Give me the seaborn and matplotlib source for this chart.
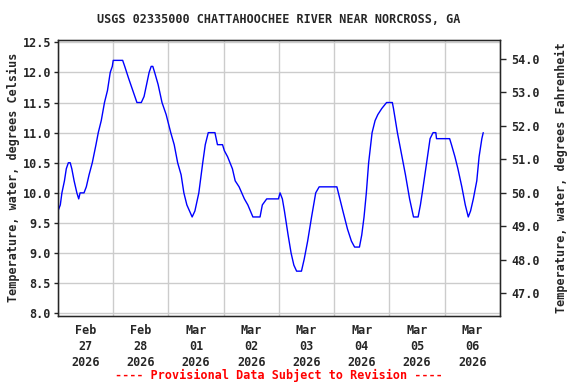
import pandas as pd
import numpy as np
import matplotlib
matplotlib.use("Agg")
import matplotlib.pyplot as plt
import matplotlib.dates as mdates
from matplotlib.ticker import FixedLocator, FormatStrFormatter
import seaborn as sns

# Hours after 2026-02-27 00:00 and water temperature (deg C)
hours = [0, 1, 1.7, 2.8, 3.6, 4.5, 5.3, 6.0, 7.0, 8.2, 9.0, 9.6, 11.3, 12.3, 13.5,
         14.9, 16.5, 17.5, 18.8, 20.2, 21.5, 22.7, 23.6, 24.0, 28.1, 29.0, 30.7,
         32.5, 34.3, 36.2, 37.4, 38.5, 39.6, 40.5, 41.2, 42.0, 43.5, 45.2, 47.0,
         49.0, 50.5, 52.0, 53.5, 54.7, 56.0, 58.3, 59.5, 61.2, 62.9, 64.0, 65.3,
         68.2, 69.3, 71.5, 72.3, 73.7, 75.8, 77.0, 78.7, 81.0, 82.5, 84.7, 87.8,
         88.8, 90.7, 95.8, 96.5, 97.5, 98.4, 100.0, 101.3, 102.5, 103.7, 105.8,
         107.0, 108.5, 110.2, 112.0, 113.5, 121.2, 122.5, 123.8, 125.8, 127.5,
         128.9, 131.0, 132.0, 133.0, 134.0, 135.0, 136.5, 137.8, 139.0, 140.7,
         142.8, 145.3, 145.8, 147.5, 149.0, 151.0, 152.8, 154.5, 156.5, 157.5,
         158.3, 160.2, 161.7, 163.0, 164.2, 164.5, 170.2, 171.0, 172.5, 173.8,
         175.5, 177.0, 178.3, 179.3, 180.5, 182.0, 183.0, 184.2, 184.8]
temp_c = [9.7, 9.8, 10.0, 10.2, 10.4, 10.5, 10.5, 10.4, 10.2, 10.0, 9.9, 10.0, 10.0,
          10.1, 10.3, 10.5, 10.8, 11.0, 11.2, 11.5, 11.7, 12.0, 12.1, 12.2, 12.2,
          12.1, 11.9, 11.7, 11.5, 11.5, 11.6, 11.8, 12.0, 12.1, 12.1, 12.0, 11.8,
          11.5, 11.3, 11.0, 10.8, 10.5, 10.3, 10.0, 9.8, 9.6, 9.7, 10.0, 10.5,
          10.8, 11.0, 11.0, 10.8, 10.8, 10.7, 10.6, 10.4, 10.2, 10.1, 9.9, 9.8,
          9.6, 9.6, 9.8, 9.9, 9.9, 10.0, 9.9, 9.7, 9.3, 9.0, 8.8, 8.7, 8.7, 8.9,
          9.2, 9.6, 10.0, 10.1, 10.1, 9.9, 9.7, 9.4, 9.2, 9.1, 9.1, 9.3, 9.6,
          10.0, 10.5, 11.0, 11.2, 11.3, 11.4, 11.5, 11.5, 11.4, 11.0, 10.7, 10.3,
          9.9, 9.6, 9.6, 9.8, 10.0, 10.5, 10.9, 11.0, 11.0, 10.9, 10.9, 10.8,
          10.6, 10.4, 10.1, 9.8, 9.6, 9.7, 9.9, 10.2, 10.6, 10.9, 11.0]

c_ticks = [8.0, 8.5, 9.0, 9.5, 10.0, 10.5, 11.0, 11.5, 12.0, 12.5]
f_ticks = [47.0, 48.0, 49.0, 50.0, 51.0, 52.0, 53.0, 54.0]
day_labels = ["Feb\n27\n2026", "Feb\n28\n2026", "Mar\n01\n2026", "Mar\n02\n2026",
              "Mar\n03\n2026", "Mar\n04\n2026", "Mar\n05\n2026", "Mar\n06\n2026"]

start = pd.Timestamp("2026-02-27")
df = pd.DataFrame({"time": start + pd.to_timedelta(hours, unit="h"), "temp": temp_c})

sns.set_style("white")
plt.rcParams["font.family"] = ["DejaVu Sans Mono"]
plt.rcParams["font.weight"] = "bold"
fs = 8.5

fig = plt.figure(figsize=(5.76, 3.84), dpi=100)
ax = fig.add_axes([0.1007, 0.177, 0.767, 0.7196])

sns.lineplot(data=df, x="time", y="temp", ax=ax, color="#0000ff", linewidth=1.0)

ymin, ymax = 7.955, 12.543
ax.set_ylim(ymin, ymax)
ax.set_xlim(start, start + pd.Timedelta(days=8))

days = [start + pd.Timedelta(days=i) for i in range(9)]
noons = [start + pd.Timedelta(days=i, hours=12) for i in range(8)]
ax.xaxis.set_major_locator(FixedLocator(mdates.date2num(days)))
ax.xaxis.set_minor_locator(FixedLocator(mdates.date2num(noons)))
ax.set_xticklabels([""] * len(days))
ax.set_xticklabels(day_labels, minor=True, fontsize=fs, fontweight="bold", linespacing=1.3)
ax.tick_params(axis="x", which="both", length=0, pad=6)

ax.set_yticks(c_ticks)
ax.yaxis.set_major_formatter(FormatStrFormatter("%.1f"))
ax.tick_params(axis="y", which="major", direction="out", length=3, width=1,
               labelsize=fs, left=True, pad=2)
for lab in ax.get_yticklabels():
    lab.set_fontweight("bold")

ax.grid(True, which="major", color="#cccccc", linewidth=1.0)
ax.set_axisbelow(True)
for sp in ax.spines.values():
    sp.set_color("black")
    sp.set_linewidth(1.0)
ax.set_xlabel("")
ax.set_ylabel("")

ax2 = ax.twinx()
ax2.set_ylim(ymin * 1.8 + 32, ymax * 1.8 + 32)
ax2.set_yticks(f_ticks)
ax2.yaxis.set_major_formatter(FormatStrFormatter("%.1f"))
ax2.tick_params(axis="y", direction="out", length=4, width=1, labelsize=fs,
                right=True, pad=4)
for lab in ax2.get_yticklabels():
    lab.set_fontweight("bold")
ax2.grid(False)

fig.text(0.483, 0.948, "USGS 02335000 CHATTAHOOCHEE RIVER NEAR NORCROSS, GA",
         ha="center", va="center", fontsize=fs, fontweight="bold")
fig.text(0.024, 0.537, "Temperature, water, degrees Celsius", rotation=90,
         ha="center", va="center", fontsize=fs, fontweight="bold")
fig.text(0.974, 0.537, "Temperature, water, degrees Fahrenheit", rotation=90,
         ha="center", va="center", fontsize=fs, fontweight="bold")
fig.text(0.485, 0.023, "---- Provisional Data Subject to Revision ----",
         ha="center", va="center", fontsize=fs, fontweight="bold", color="red")

fig.savefig("out.png", dpi=100)
